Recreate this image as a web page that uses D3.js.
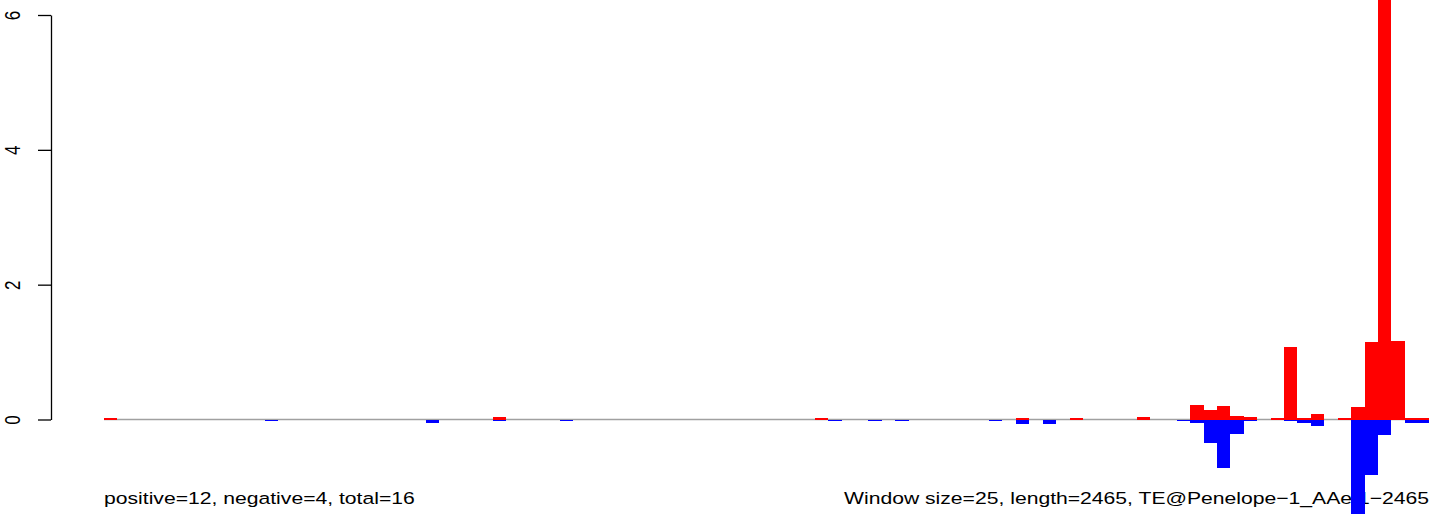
<!DOCTYPE html>
<html>
<head>
<meta charset="utf-8">
<script src="https://cdn.jsdelivr.net/npm/d3@7"></script>
<style>
  html, body { margin: 0; padding: 0; background: #fff; }
  svg { display: block; }
  text { font-family: "Liberation Sans", Arial, Helvetica, sans-serif; }
</style>
</head>
<body>
<svg id="chart" width="1429" height="514"></svg>
<script>
// ---- data (window index -> value), window size 25 bp, length 2465 ----
const windowSize = 25;
const seqLength = 2465;
const nWindows = 99;

// positive-strand values (red), by window index
const positiveBins = [0, 29, 53, 68, 72, 77, 81, 82, 83, 84, 85, 87, 88, 89, 90, 92, 93, 94, 95, 96, 97, 98];
const positiveVals = [0.02, 0.037, 0.02, 0.02, 0.02, 0.037, 0.215, 0.14, 0.2, 0.052, 0.037, 0.02, 1.075, 0.02, 0.082, 0.02, 0.185, 1.15, 6.5, 1.164, 0.02, 0.02];

// negative-strand values (blue), by window index
const negativeBins = [12, 24, 29, 34, 54, 57, 59, 66, 68, 70, 80, 81, 82, 83, 84, 85, 88, 89, 90, 93, 94, 95, 97, 98];
const negativeVals = [-0.02, -0.05, -0.02, -0.02, -0.02, -0.02, -0.02, -0.02, -0.065, -0.065, -0.02, -0.05, -0.35, -0.715, -0.215, -0.02, -0.02, -0.052, -0.096, -1.5, -0.824, -0.23, -0.052, -0.052];

const yTicks = [0, 2, 4, 6];
const leftLabel = "positive=12, negative=4, total=16";
const rightLabel = "Window size=25, length=2465, TE@Penelope\u22121_AAe:1\u22122465";

// ---- drawing ----
const svg = d3.select("#chart");

const x = d3.scaleLinear()
  .domain([0, nWindows * windowSize])
  .range([104, 104 + nWindows * 13.41]);

const y = d3.scaleLinear()
  .domain([0, 6])
  .range([419.5, 15]);

// zero line
svg.append("line")
  .attr("x1", x(0)).attr("x2", 1429)
  .attr("y1", y(0)).attr("y2", y(0))
  .attr("stroke", "#a0a0a0")
  .attr("stroke-width", 1.6);

// y axis
const axis = svg.append("g")
  .attr("transform", "translate(51,0)")
  .call(d3.axisLeft(y).tickValues(yTicks).tickSize(13).tickSizeOuter(0).tickFormat(d3.format("d")));
axis.select(".domain").attr("stroke", "#000").attr("stroke-width", 1.3);
axis.selectAll(".tick line").attr("stroke", "#000").attr("stroke-width", 1.3);
axis.selectAll(".tick text")
  .attr("x", null).attr("dy", null)
  .attr("text-anchor", "middle")
  .attr("font-size", 17)
  .attr("fill", "#000")
  .style("font-family", "'Liberation Sans', Arial, sans-serif")
  .attr("transform", "translate(-31,0) scale(1.25,1) rotate(-90)");

// footer texts
svg.append("text")
  .attr("transform", "translate(104,504) scale(1.244,1)")
  .attr("font-size", 17)
  .attr("fill", "#000")
  .text(leftLabel);

svg.append("text")
  .attr("transform", "translate(1429,504) scale(1.244,1)")
  .attr("text-anchor", "end")
  .attr("font-size", 17)
  .attr("fill", "#000")
  .text(rightLabel);

// bars
const posData = positiveBins.map((b, i) => ({ bin: b, v: positiveVals[i] }));
const negData = negativeBins.map((b, i) => ({ bin: b, v: negativeVals[i] }));

svg.append("g").selectAll("rect").data(posData).join("rect")
  .attr("x", d => x(d.bin * windowSize))
  .attr("width", d => x((d.bin + 1) * windowSize) - x(d.bin * windowSize))
  .attr("y", d => y(d.v))
  .attr("height", d => y(0) - y(d.v))
  .attr("fill", "#ff0000")
  .attr("shape-rendering", "crispEdges");

svg.append("g").selectAll("rect").data(negData).join("rect")
  .attr("x", d => x(d.bin * windowSize))
  .attr("width", d => x((d.bin + 1) * windowSize) - x(d.bin * windowSize))
  .attr("y", y(0))
  .attr("height", d => y(d.v) - y(0))
  .attr("fill", "#0000ff")
  .attr("shape-rendering", "crispEdges");
</script>
</body>
</html>
